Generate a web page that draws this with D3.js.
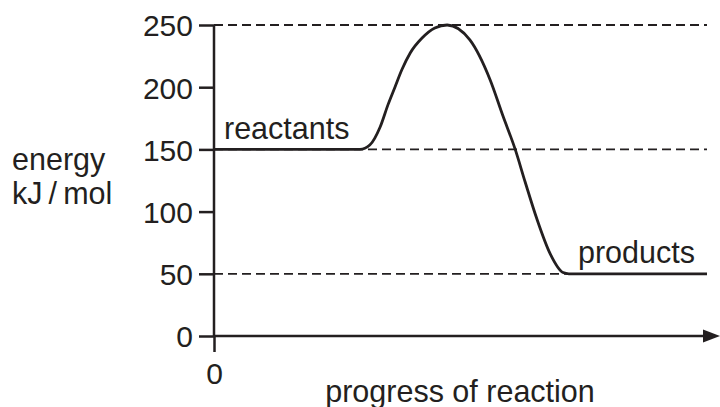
<!DOCTYPE html>
<html>
<head>
<meta charset="utf-8">
<script src="https://cdn.jsdelivr.net/npm/d3@7"></script>
<style>
  body { margin: 0; background: #fff; }
  svg { display: block; font-family: "Liberation Sans", Arial, sans-serif; }
</style>
</head>
<body>
<div id="chart"></div>
<script>
// Energy profile (progress 0-100, energy in kJ/mol).
const progress = [0, 29.6, 31.6, 33.7, 35.3, 36.7, 38.1, 39.8, 42.2, 44.8, 47.3, 51.9, 56.0, 58.6, 61.1, 63.1, 65.5, 68.2, 70.8, 72.0, 100];
const energy   = [150, 150, 153.5, 168, 186, 200, 214, 227.5, 239.5, 247.6, 250, 238, 206, 177, 150, 124, 94, 66, 51, 50, 50];
const yTicks = [0, 50, 100, 150, 200, 250];
const dashedLevels = [250, 150, 50];
const reactantsLabel = "reactants";
const productsLabel = "products";

const WIDTH = 720, HEIGHT = 407;
const INK = "#231f20";

const data = progress.map((p, i) => ({ progress: p, energy: energy[i] }));

const svg = d3.select("#chart")
    .append("svg")
    .attr("width", WIDTH)
    .attr("height", HEIGHT);

const xScale = d3.scaleLinear()
    .domain([0, 100])
    .range([214, 707]);

const yScale = d3.scaleLinear()
    .domain([0, 250])
    .range([336, 25]);

// Where the curve lands on the product level; dashed line stops there.
const productsStart = data.find(d => d.energy === 50).progress;

// Dashed reference lines at key energy levels.
svg.append("g")
    .selectAll("line")
    .data(dashedLevels)
    .join("line")
    .attr("x1", xScale(0))
    .attr("x2", d => d === 50 ? xScale(productsStart) : xScale(100))
    .attr("y1", d => yScale(d))
    .attr("y2", d => yScale(d))
    .attr("stroke", INK)
    .attr("stroke-width", 1.8)
    .attr("stroke-dasharray", "9,5");

// Y axis: ticks pointing left, line drawn separately so it runs below zero.
const yAxis = svg.append("g")
    .attr("transform", `translate(${xScale(0)},0)`)
    .call(d3.axisLeft(yScale).tickValues(yTicks).tickSize(15).tickPadding(6));
yAxis.select(".domain").remove();
yAxis.selectAll(".tick line").attr("stroke", INK).attr("stroke-width", 2.5);
yAxis.selectAll(".tick text")
    .attr("fill", INK)
    .style("font-size", "30px")
    .attr("dy", "0.36em");

// X axis: only the zero tick, which doubles as the axis stub below the origin.
const xAxis = svg.append("g")
    .attr("transform", `translate(0,${yScale(0)})`)
    .call(d3.axisBottom(xScale).tickValues([0]).tickSize(16).tickPadding(11));
xAxis.select(".domain").remove();
xAxis.selectAll(".tick line").attr("stroke", INK).attr("stroke-width", 2.5);
xAxis.selectAll(".tick text")
    .attr("fill", INK)
    .style("font-size", "30px");

svg.append("line")
    .attr("x1", xScale(0))
    .attr("x2", xScale(0))
    .attr("y1", yScale(250))
    .attr("y2", yScale(0))
    .attr("stroke", INK)
    .attr("stroke-width", 2.5);

const xEnd = xScale(100) + 13;
svg.append("line")
    .attr("x1", xScale(0))
    .attr("x2", xEnd - 12)
    .attr("y1", yScale(0))
    .attr("y2", yScale(0))
    .attr("stroke", INK)
    .attr("stroke-width", 2.5);

svg.append("path")
    .attr("d", `M${xEnd - 17},${yScale(0) - 6.5}L${xEnd},${yScale(0)}L${xEnd - 17},${yScale(0) + 6.5}Z`)
    .attr("fill", INK);

// Energy curve.
const lineGenerator = d3.line()
    .curve(d3.curveMonotoneX)
    .x(d => xScale(d.progress))
    .y(d => yScale(d.energy));

svg.append("path")
    .attr("d", lineGenerator(data))
    .attr("fill", "none")
    .attr("stroke", INK)
    .attr("stroke-width", 2.8)
    .attr("stroke-linejoin", "round");

// Labels.
const label = (txt, x, y, anchor = "start") => svg.append("text")
    .text(txt)
    .attr("x", x)
    .attr("y", y)
    .attr("text-anchor", anchor)
    .attr("fill", INK)
    .style("font-size", "30.5px");

label(reactantsLabel, xScale(0) + 10, yScale(150) - 10);
label(productsLabel, 578, yScale(50) - 11);
label("energy", 12, 170);
label("kJ\u2009/\u2009mol", 12, 204);
label("progress of reaction", 460, 402, "middle");
</script>
</body>
</html>
